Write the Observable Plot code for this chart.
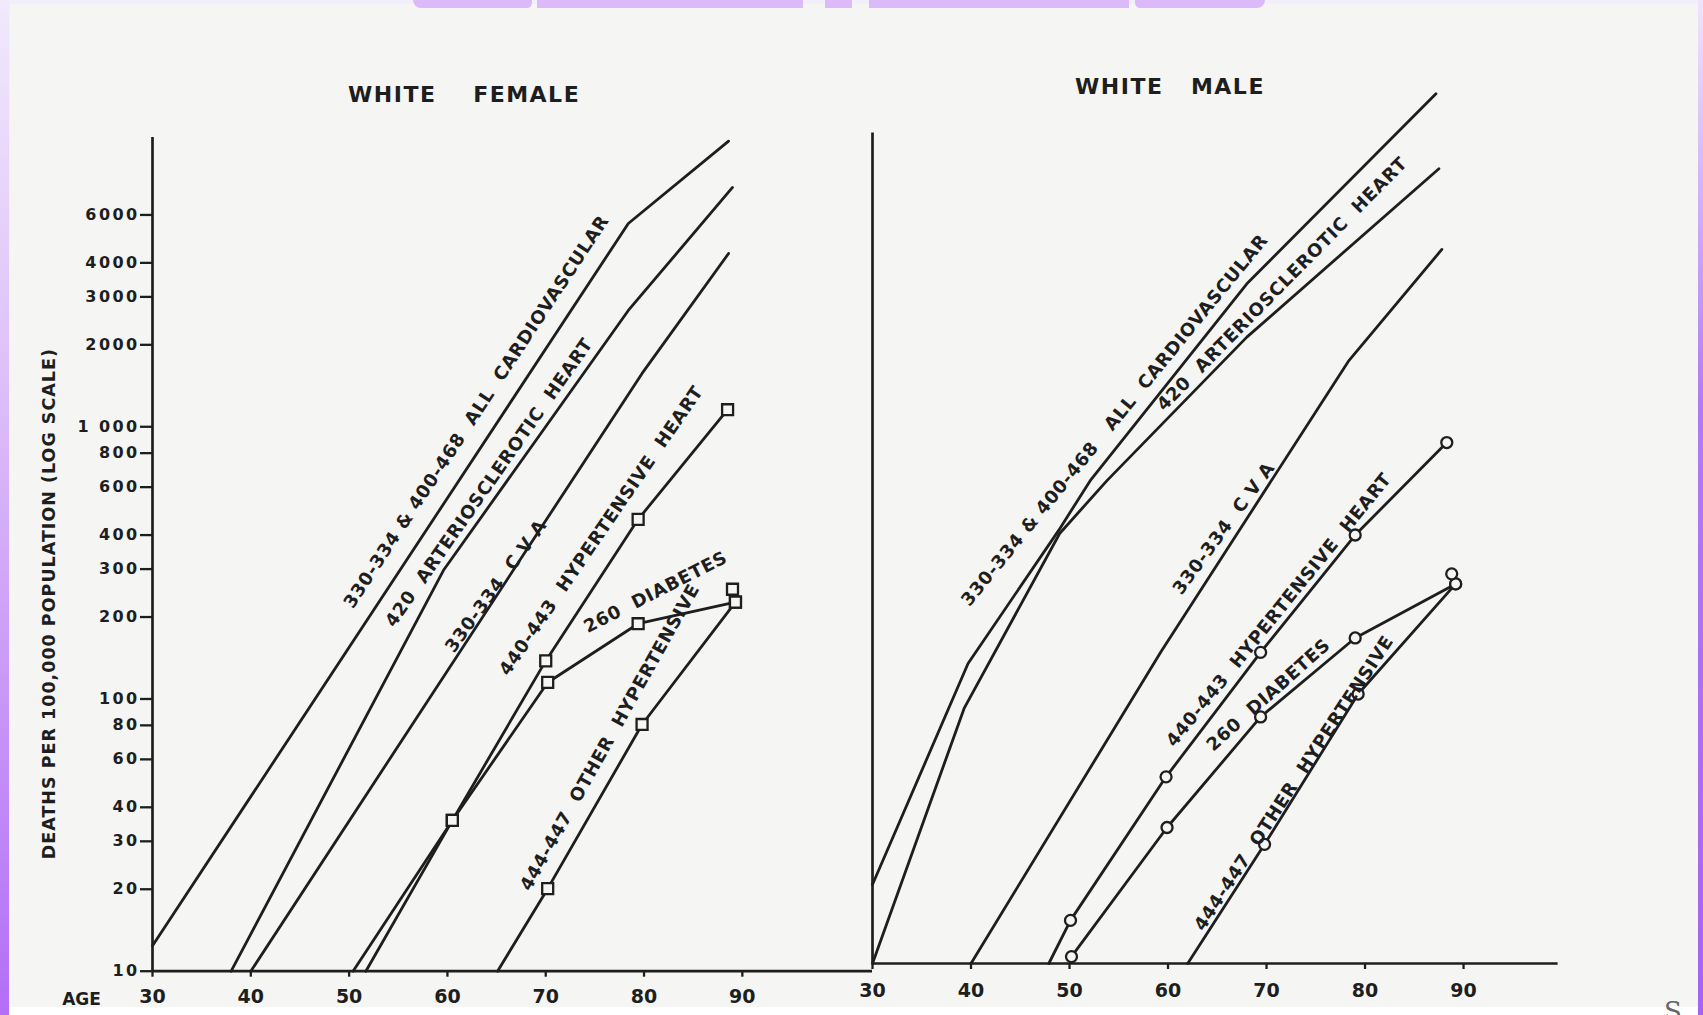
<!DOCTYPE html>
<html>
<head>
<meta charset="utf-8">
<script src="https://cdn.jsdelivr.net/npm/d3@7"></script>
<script src="https://cdn.jsdelivr.net/npm/@observablehq/plot@0.6"></script>
<style>
  html, body { margin: 0; padding: 0; width: 1703px; height: 1015px; overflow: hidden; background: #f3eefb; }
  #page { position: relative; width: 1703px; height: 1015px; overflow: hidden; }
  #paper { position: absolute; left: 10px; top: 4px; width: 1688px; height: 1003px; background: #f5f5f3; }
  #leftbar { position: absolute; left: 0; top: 0; width: 9px; height: 1015px; background: linear-gradient(#f1e9fc, #dcbcf9 40%, #b36ef6); }
  #rightbar { position: absolute; right: 0; top: 0; width: 5px; height: 1015px; background: linear-gradient(#efe4fc, #b27af3 40%, #a862f2); }
  #bottomstrip { position: absolute; left: 10px; top: 1007px; width: 1688px; height: 8px; background: #ffffff; }
  .blob { position: absolute; top: 0; height: 8px; background: #dcb9f9; }
  #corner { position: absolute; left: 1664px; top: 996px; font: 26px "DejaVu Serif", serif; color: #666; }
  .chart { position: absolute; top: 0; }
  .chart svg text { white-space: pre; }
</style>
</head>
<body>
<div id="page">
  <div id="paper"></div>
  <div id="leftbar"></div>
  <div id="rightbar"></div>
  <div id="bottomstrip"></div>
  <div class="blob" style="left:413px;width:119px;border-radius:0 0 40px 60px;"></div>
  <div class="blob" style="left:537px;width:266px;"></div>
  <div class="blob" style="left:825px;width:27px;"></div>
  <div class="blob" style="left:869px;width:260px;"></div>
  <div class="blob" style="left:1135px;width:130px;border-radius:0 0 60px 40px;"></div>
  <div id="corner">S</div>
  <div id="left" class="chart" style="left:0px;"></div>
  <div id="right" class="chart" style="left:842px;"></div>
</div>
<script>
// ---------------- DATA (age, deaths per 100,000) ----------------
const panels = ["WHITE    FEMALE", "WHITE   MALE"];
const yTickValues = [10, 20, 30, 40, 60, 80, 100, 200, 300, 400, 600, 800, 1000, 2000, 3000, 4000, 6000];
const yTickLabels = ["10", "20", "30", "40", "60", "80", "100", "200", "300", "400", "600", "800", "1 000", "2000", "3000", "4000", "6000"];
const xTickValues = [30, 40, 50, 60, 70, 80, 90];
const xTitle = "AGE";
const yTitle = "DEATHS PER 100,000 POPULATION (LOG SCALE)";

const seriesNames = ["all", "arterio", "cva", "hypheart", "diabetes", "otherhyp"];
const femaleLabels = [
  "330-334 & 400-468  ALL  CARDIOVASCULAR",
  "420  ARTERIOSCLEROTIC  HEART",
  "330-334  C V A",
  "440-443  HYPERTENSIVE  HEART",
  "260  DIABETES",
  "444-447  OTHER  HYPERTENSIVE"
];
const maleLabels = [
  "330-334 & 400-468   ALL  CARDIOVASCULAR",
  "420  ARTERIOSCLEROTIC  HEART",
  "330-334  C V A",
  "440-443  HYPERTENSIVE  HEART",
  "260  DIABETES",
  "444-447  OTHER  HYPERTENSIVE"
];

// White female
const femaleAllCardio = [[30, 12.4], [78.4, 5580], [88.6, 11200]];
const femaleArterio   = [[38.0, 10], [59.6, 297], [78.4, 2675], [89.0, 7570]];
const femaleCVA       = [[40.0, 10], [79.8, 1570], [88.6, 4330]];
const femaleHypHeart  = [[50.4, 10], [60.5, 35.8], [70.0, 138], [79.4, 457], [88.5, 1155]];
const femaleDiabetes  = [[51.7, 10], [60.5, 35.8], [70.2, 115], [79.4, 189], [89.3, 227]];
const femaleOtherHyp  = [[65.1, 10], [70.2, 20.1], [79.8, 80.6], [89.3, 227]];
const femaleExtraPts  = [[89.0, 253]];

// White male
const maleAllCardio = [[30, 19.5], [39.7, 126.5], [48.9, 390], [52.1, 594], [68.0, 3140], [87.2, 15670]];
const maleArterio   = [[30, 10], [39.3, 86.5], [49.0, 380], [53.8, 594], [68.0, 2000], [87.5, 8310]];
const maleCVA       = [[40, 10], [59.3, 140], [78.3, 1628], [87.8, 4200]];
const maleHypHeart  = [[47.9, 10], [50.1, 14.4], [59.8, 48.5], [69.4, 139], [79.0, 375], [88.3, 820]];
const maleDiabetes  = [[50.2, 10.6], [59.9, 31.6], [69.4, 80.5], [79.0, 157], [89.2, 248]];
const maleOtherHyp  = [[62.0, 10], [69.8, 27.4], [79.3, 97.7], [89.2, 248]];
const maleExtraPts  = [[88.8, 270]];

// ---------------- RENDERING ----------------
const INK = "#1e1e1e";
const PAPER = "#f5f5f3";
const BOLD = '"DejaVu Sans", "Liberation Sans", sans-serif';
const markedSeries = new Set(["hypheart", "diabetes", "otherhyp"]);

function toRows(list) {
  const rows = [];
  list.forEach((pts, i) => pts.forEach(([age, rate]) => rows.push({name: seriesNames[i], age, rate})));
  return rows;
}
function markerRows(list, extra) {
  const rows = toRows(list).filter(d => markedSeries.has(d.name) && d.rate > 10);
  extra.forEach(([age, rate]) => rows.push({name: "extra", age, rate}));
  return rows;
}
const tickLabel = d => yTickLabels[yTickValues.indexOf(d)];

// label anchors on the chart (age, rate, rotation) for each series label
const femaleLabelPlace = [[49.9, 219, -56.6], [54.1, 187, -55], [60.2, 151, -54], [65.7, 124, -55.6], [74.0, 182, -27], [67.9, 20.0, -60.8]];
const maleLabelPlace   = [[39.4, 210, -50.8], [59.2, 1100, -45.4], [60.9, 231, -53.7], [60.2, 63.8, -51], [64.2, 62.1, -41.7], [63.1, 13.4, -56.8]];
const labelRows = (texts, place) => texts.map((t, i) => ({text: t, age: place[i][0], rate: place[i][1], rot: place[i][2]}));

function panelMarks({series, extra, texts, place, symbol, r, xEnd, axisTop, title, titleAge, titleRate}) {
  return [
    Plot.ruleX([30], {y1: 10, y2: axisTop, stroke: INK, strokeWidth: 2.7}),
    Plot.ruleY([10], {x1: 30, x2: xEnd, stroke: INK, strokeWidth: 2.7}),
    Plot.line(toRows(series), {x: "age", y: "rate", z: "name", stroke: INK, strokeWidth: 2.8, strokeLinejoin: "round"}),
    Plot.dot(markerRows(series, extra), {x: "age", y: "rate", symbol, r, stroke: INK, strokeWidth: 2.3, fill: PAPER}),
    Plot.text(labelRows(texts, place), {x: "age", y: "rate", text: "text", rotate: "rot", textAnchor: "start", lineAnchor: "middle",
      fontSize: 18, fontWeight: "bold", fontFamily: BOLD, fill: INK, className: "serieslabel"}),
    Plot.text([title], {x: titleAge, y: titleRate, text: d => d, textAnchor: "middle", fontSize: 22, fontWeight: "bold", fontFamily: BOLD, fill: INK, className: "paneltitle"})
  ];
}

function styleAxes(svg) {
  svg.querySelectorAll('[aria-label="y-axis tick"], [aria-label="x-axis tick"]').forEach(g => {
    g.setAttribute("stroke-width", "2.3"); g.setAttribute("stroke", INK);
  });
  svg.querySelectorAll('[aria-label="x-axis tick label"]').forEach(g => {
    g.style.fontSize = "19px"; g.style.fontWeight = "bold"; g.style.fill = INK;
  });
  svg.querySelectorAll(".tick line").forEach(l => { l.setAttribute("stroke-width", "2.3"); });
  svg.querySelectorAll(".serieslabel text, g.serieslabel text").forEach(t => { t.style.letterSpacing = "0.7px"; });
  svg.querySelectorAll(".paneltitle text, g.paneltitle text").forEach(t => { t.style.letterSpacing = "1.5px"; });
  svg.querySelectorAll(".ylabels text, g.ylabels text").forEach(t => { t.style.letterSpacing = "2.4px"; });
  svg.querySelectorAll(".ytitle text, g.ytitle text").forEach(t => { t.style.letterSpacing = "1px"; });
}

const leftPlot = Plot.plot({
  width: 872, height: 1015,
  marginLeft: 152, marginRight: 0, marginTop: 72.1, marginBottom: 44.3,
  style: {background: "transparent", fontFamily: BOLD, overflow: "visible", color: INK},
  x: {domain: [30, 103.24], ticks: xTickValues, tickFormat: d => String(d), tickSize: 6, tickPadding: 12, label: null},
  y: {type: "log", domain: [10, 20000], ticks: yTickValues, tickFormat: () => "", tickSize: 12, tickPadding: 2, label: null},
  marks: [
    ...panelMarks({series: [femaleAllCardio, femaleArterio, femaleCVA, femaleHypHeart, femaleDiabetes, femaleOtherHyp],
      extra: femaleExtraPts, texts: femaleLabels, place: femaleLabelPlace, symbol: "square", r: 6.2,
      xEnd: 103.24, axisTop: 11560, title: panels[0], titleAge: 61.7, titleRate: 16560}),
    Plot.text(yTickValues, {y: d => d, text: tickLabel, frameAnchor: "left", textAnchor: "end", lineAnchor: "middle", dx: -13,
      fontSize: 16, fontWeight: "bold", fontFamily: BOLD, fill: INK, className: "ylabels"}),
    Plot.text([yTitle], {frameAnchor: "left", y: 224, dx: -103, rotate: -90, textAnchor: "middle", lineAnchor: "middle", text: d => d,
      fontSize: 17.5, fontWeight: "bold", fontFamily: BOLD, fill: INK, className: "ytitle"}),
    Plot.text([xTitle], {frameAnchor: "bottom-left", dx: -71, dy: 28, textAnchor: "middle", lineAnchor: "middle", text: d => d,
      fontSize: 17, fontWeight: "bold", fontFamily: BOLD, fill: INK})
  ]
});
styleAxes(leftPlot);
document.getElementById("left").appendChild(leftPlot);

const rightPlot = Plot.plot({
  width: 861, height: 1015,
  marginLeft: 30, marginRight: 145.4, marginTop: 64.4, marginBottom: 52,
  style: {background: "transparent", fontFamily: BOLD, overflow: "visible", color: INK},
  x: {domain: [30, 99.6], ticks: xTickValues, tickFormat: d => String(d), tickSize: 6, tickPadding: 14, label: null},
  y: {type: "log", domain: [10, 20000], axis: null},
  marks: panelMarks({series: [maleAllCardio, maleArterio, maleCVA, maleHypHeart, maleDiabetes, maleOtherHyp],
      extra: maleExtraPts, texts: maleLabels, place: maleLabelPlace, symbol: "circle", r: 5.5,
      xEnd: 99.6, axisTop: 11250, title: panels[1], titleAge: 60.2, titleRate: 16550})
});
styleAxes(rightPlot);
document.getElementById("right").appendChild(rightPlot);
</script>
</body>
</html>
